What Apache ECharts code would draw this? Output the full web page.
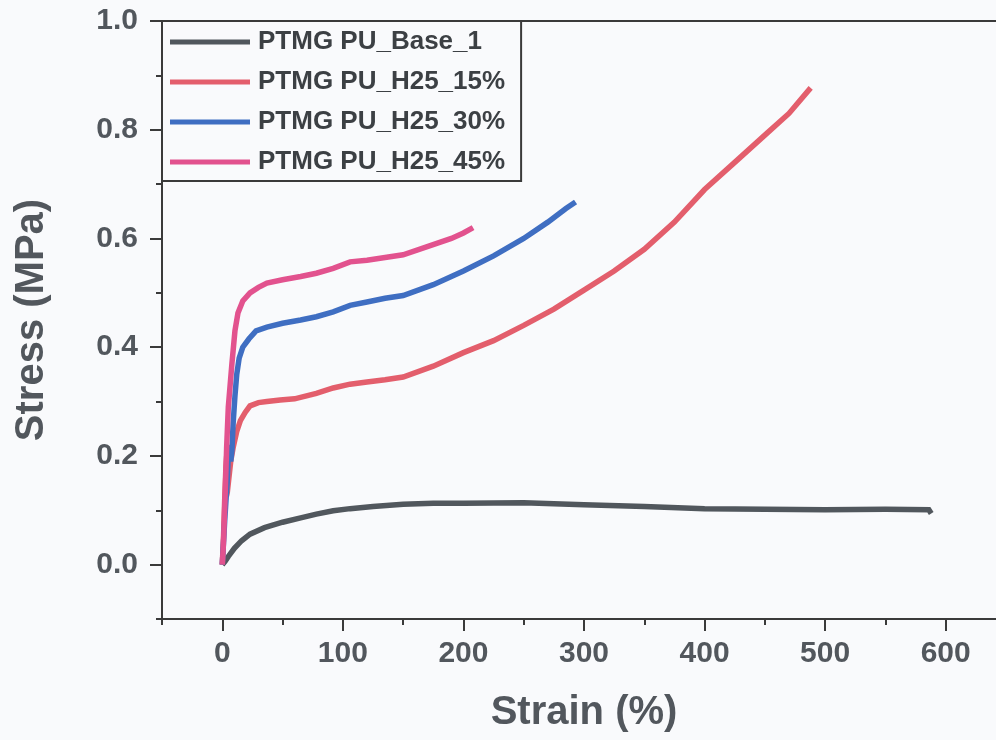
<!DOCTYPE html>
<html>
<head>
<meta charset="utf-8">
<script src="https://cdn.jsdelivr.net/npm/echarts@6/dist/echarts.min.js"></script>
<style>
  html, body { margin: 0; padding: 0; background: #f9fafc; }
  #chart { width: 996px; height: 740px; }
</style>
</head>
<body>
<div id="chart"></div>
<script>
// Tensile stress–strain curves, strain in %, stress in MPa
const seriesNames = [
  'PTMG PU_Base_1',
  'PTMG PU_H25_15%',
  'PTMG PU_H25_30%',
  'PTMG PU_H25_45%'
];
const seriesColors = ['#51575d', '#e35e6c', '#3f6ec2', '#e2528e'];

const base1 = [
  [0, 0], [2.3, 0.006], [5, 0.015], [10, 0.03], [16, 0.044], [23, 0.056], [35, 0.068],
  [50, 0.078], [65, 0.086], [78, 0.093], [92, 0.099], [106, 0.103], [125, 0.107],
  [150, 0.111], [175, 0.113], [200, 0.113], [250, 0.114], [275, 0.112], [300, 0.110],
  [350, 0.107], [400, 0.103], [450, 0.102], [500, 0.101], [550, 0.102], [586, 0.101],
  [588, 0.094]
];
const h25_15 = [
  [0, 0], [1, 0.05], [2, 0.12], [3, 0.18], [4, 0.21], [5, 0.19], [6, 0.17], [7, 0.19],
  [9, 0.215], [12, 0.245], [15, 0.265], [19, 0.28], [23, 0.292], [30, 0.298], [37, 0.30],
  [48, 0.303], [60, 0.305], [78, 0.315], [92, 0.325], [106, 0.332], [120, 0.336],
  [135, 0.34], [150, 0.345], [175, 0.365], [200, 0.39], [225, 0.412], [250, 0.44],
  [275, 0.47], [300, 0.505], [325, 0.54], [350, 0.58], [375, 0.63], [400, 0.69],
  [425, 0.74], [450, 0.79], [470, 0.83], [488, 0.877]
];
const h25_30 = [
  [0, 0], [2, 0.08], [4, 0.15], [5, 0.2], [6, 0.22], [7, 0.19], [8, 0.21], [9, 0.26],
  [10.5, 0.31], [12, 0.35], [14, 0.38], [17, 0.40], [22, 0.415], [28, 0.43], [37, 0.437],
  [50, 0.444], [65, 0.45], [78, 0.456], [92, 0.465], [106, 0.477], [120, 0.483],
  [135, 0.49], [150, 0.495], [175, 0.515], [200, 0.54], [225, 0.568], [250, 0.60],
  [270, 0.63], [285, 0.655], [293, 0.667]
];
const h25_45 = [
  [0, 0], [1, 0.04], [2, 0.104], [3, 0.17], [3.6, 0.215], [5, 0.29], [8, 0.37],
  [10.5, 0.43], [13, 0.463], [17, 0.485], [23, 0.50], [30, 0.51], [37, 0.518],
  [50, 0.524], [65, 0.53], [78, 0.536], [92, 0.545], [106, 0.557], [120, 0.56],
  [135, 0.565], [150, 0.57], [170, 0.585], [190, 0.60], [200, 0.61], [208, 0.62]
];

// labelled (major) tick values
const strainTicks = [0, 100, 200, 300, 400, 500, 600];
const stressTicks = [0, 0.2, 0.4, 0.6, 0.8, 1.0];
// every tick position, majors and half-step minors, from axis min to axis max
const strainTickSteps = [-50, 0, 50, 100, 150, 200, 250, 300, 350, 400, 450, 500, 550, 600, 650];
const stressTickSteps = [-0.1, 0, 0.1, 0.2, 0.3, 0.4, 0.5, 0.6, 0.7, 0.8, 0.9, 1.0];

const FONT = 'Liberation Sans';
const axisColor = '#3a3a3a';
const labelColor = '#52575d';

const isMajorStrain = v => Math.abs(Number(v) % 100) < 1e-6;
const isMajorStress = v => {
  const k = Math.round(Number(v) * 10);
  return k >= 0 && k % 2 === 0;
};

// tick-only helper axis spanning the same extent as the value axis
function tickAxis(steps, major, len, pos, test) {
  return {
    type: 'category', data: steps.map(String), boundaryGap: false, position: pos,
    axisLine: { show: false, onZero: false },
    axisLabel: { show: false },
    splitLine: { show: false },
    axisTick: {
      show: true, inside: false, length: len,
      interval: (idx, val) => (test(val) === major),
      lineStyle: { color: axisColor, width: 2 }
    }
  };
}

const chart = echarts.init(document.getElementById('chart'));

const curves = [base1, h25_15, h25_30, h25_45];

chart.setOption({
  animation: false,
  backgroundColor: '#f9fafc',
  grid: {
    left: 162, top: 21, right: -10, bottom: 121,
    containLabel: false,
    outerBoundsMode: 'none',
    show: true,
    borderColor: axisColor,
    borderWidth: 2
  },
  legend: {
    orient: 'vertical',
    left: 162, top: 21,
    padding: [8, 16, 6, 8],
    itemWidth: 80,
    itemHeight: 5,
    itemGap: 14,
    icon: 'rect',
    borderColor: axisColor,
    borderWidth: 2,
    data: seriesNames,
    textStyle: {
      fontFamily: FONT, fontSize: 26, fontWeight: 'bold', color: '#3c4044',
      padding: [0, 0, 0, 3]
    }
  },
  xAxis: [
    {
      type: 'value', min: -50, max: 650, position: 'bottom',
      name: 'Strain (%)', nameLocation: 'middle', nameGap: 74,
      nameTextStyle: { fontFamily: FONT, fontSize: 40, fontWeight: 'bold', color: labelColor },
      axisLine: { show: true, onZero: false, lineStyle: { color: axisColor, width: 2 } },
      axisTick: { show: false },
      axisLabel: { customValues: strainTicks, margin: 20,
                   fontFamily: FONT, fontSize: 30, fontWeight: 'bold', color: labelColor },
      splitLine: { show: false }
    },
    tickAxis(strainTickSteps, true, 12, 'bottom', isMajorStrain),
    tickAxis(strainTickSteps, false, 6, 'bottom', isMajorStrain)
  ],
  yAxis: [
    {
      type: 'value', min: -0.1, max: 1.0, position: 'left',
      name: 'Stress (MPa)', nameLocation: 'middle', nameGap: 110,
      nameTextStyle: { fontFamily: FONT, fontSize: 40, fontWeight: 'bold', color: labelColor },
      axisLine: { show: true, onZero: false, lineStyle: { color: axisColor, width: 2 } },
      axisTick: { show: false },
      axisLabel: { customValues: stressTicks, margin: 24,
                   formatter: v => v.toFixed(1),
                   fontFamily: FONT, fontSize: 30, fontWeight: 'bold', color: labelColor },
      splitLine: { show: false }
    },
    tickAxis(stressTickSteps, true, 12, 'left', isMajorStress),
    tickAxis(stressTickSteps, false, 6, 'left', isMajorStress)
  ],
  series: curves.map((data, i) => ({
    name: seriesNames[i],
    type: 'line',
    data: data,
    xAxisIndex: 0,
    yAxisIndex: 0,
    showSymbol: false,
    symbol: 'none',
    color: seriesColors[i],
    lineStyle: { color: seriesColors[i], width: 5.5, cap: 'butt', join: 'miter' },
    z: 2 + i
  }))
});
</script>
</body>
</html>
